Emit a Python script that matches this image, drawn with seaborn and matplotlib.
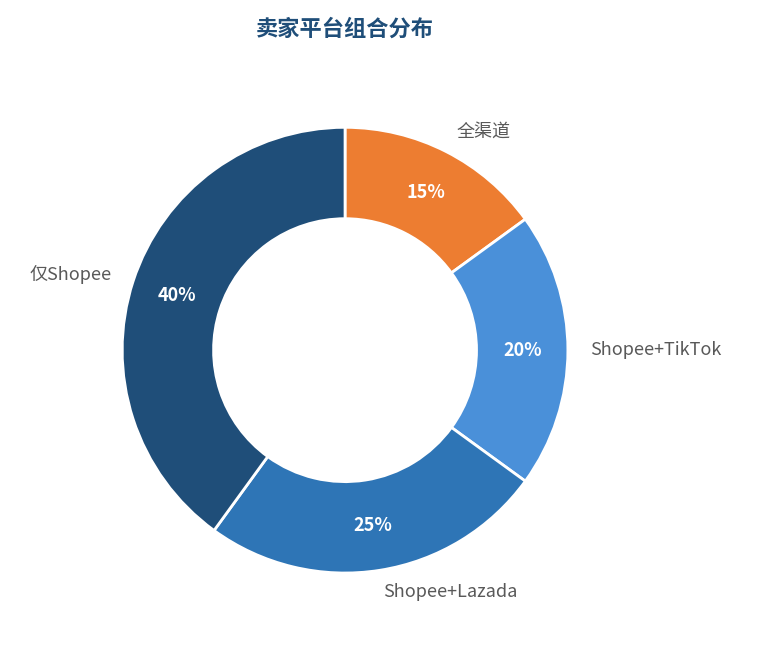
import matplotlib
matplotlib.use("Agg")
import matplotlib.pyplot as plt
import seaborn as sns

sns.set_theme(style="white")
plt.rcParams['font.family'] = ['Noto Sans CJK SC', 'DejaVu Sans']

categories = ["全渠道", "Shopee+TikTok", "Shopee+Lazada", "仅Shopee"]
values = [15, 20, 25, 40]
colors = ["#ED7D31", "#4A90D9", "#2E75B6", "#1F4E79"]

fig = plt.figure(figsize=(7.6, 6.45), dpi=100)
ax = fig.add_axes([0.1605, 0.1116, 0.587, 0.691])
wedges, texts, autotexts = ax.pie(
    values, labels=categories, colors=colors, startangle=90, counterclock=False,
    autopct="%d%%", pctdistance=0.795, labeldistance=1.1,
    wedgeprops=dict(width=0.41, edgecolor="white", linewidth=2),
    textprops=dict(fontsize=13, color="#595959"))
for t in autotexts:
    t.set_color("white")
    t.set_fontweight("bold")
    t.set_fontsize(13)
ax.set_aspect("equal")
ax.set_xlim(-1, 1)
ax.set_ylim(-1, 1)
fig.text(0.454, 0.955, "卖家平台组合分布", ha="center", va="center",
         fontsize=16, fontweight="bold", color="#1F4E79")
fig.savefig("out.png", dpi=100, facecolor="white")
